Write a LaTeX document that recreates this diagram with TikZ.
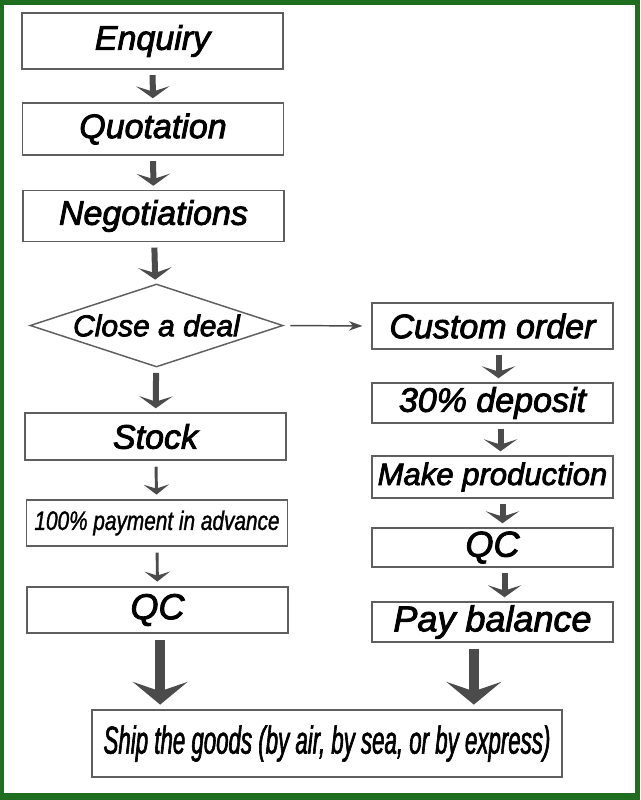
\documentclass[tikz,border=0pt]{standalone}
\usepackage{fontspec}
\setmainfont{Liberation Sans}
\newfontfamily\boxfont[FakeBold=2.5]{Liberation Sans Italic}
\newfontfamily\narrowfont[FakeStretch=0.78, FakeBold=1.2]{Liberation Sans Italic}
\newfontfamily\shipfont[FakeStretch=0.57, FakeBold=1.5]{Liberation Sans Italic}
\usetikzlibrary{shapes.geometric, arrows.meta}

\definecolor{framegreen}{RGB}{31,110,31}
\definecolor{edgegray}{RGB}{95,95,95}
\definecolor{arrowgray}{RGB}{75,75,75}

\tikzset{
	flowbox/.style={draw=edgegray, line width=1.1pt, rectangle, inner sep=0pt,
		text=black, font=\boxfont\fontsize{25.5pt}{30pt}\selectfont},
	leftbox/.style={flowbox, minimum width=196pt},
	rightbox/.style={flowbox, minimum width=181pt},
	midarrow/.style={draw=arrowgray, line width=4.5pt,
		-{Stealth[length=9pt, width=25pt, inset=4pt]},
		shorten <=4pt, shorten >=3pt},
	thinarrow/.style={draw=arrowgray, line width=2.2pt,
		-{Stealth[length=7.5pt, width=19pt, inset=3pt]},
		shorten <=4.5pt, shorten >=3.5pt},
	bigarrow/.style={draw=arrowgray, line width=7.5pt,
		-{Stealth[length=17pt, width=41pt, inset=7pt]},
		shorten <=5pt, shorten >=3.5pt},
	sidearrow/.style={draw=arrowgray, line width=1.1pt,
		-{Stealth[length=10pt, width=7pt, inset=3pt]},
		shorten <=5pt, shorten >=6.5pt}
}

\begin{document}
\begin{tikzpicture}[x=0.75pt, y=-0.75pt]
	% frame
	\fill[framegreen] (0,0) rectangle (640,800);
	\fill[white] (4,5) rectangle (635,793);
	\useasboundingbox (0,0) rectangle (640,800);

	% left column
	\node[leftbox, minimum height=42pt] (enquiry) at (152.5,41) {Enquiry};
	\node[leftbox, minimum height=39pt] (quotation) at (153,129) {Quotation};
	\node[leftbox, minimum height=38.25pt] (negotiations) at (153.5,216)
		{Negotiations};
	\node[draw=edgegray, line width=1.1pt, diamond, aspect=3.05, inner sep=0pt,
		minimum width=189.75pt, minimum height=62.25pt,
		font=\boxfont\fontsize{22.5pt}{26pt}\selectfont] (deal) at (156.5,325.5)
		{Close a deal};
	\node[leftbox, minimum height=35.25pt] (stock) at (155.5,436.5) {Stock};
	\node[leftbox, minimum height=34.5pt,
		font=\narrowfont\fontsize{20pt}{24pt}\selectfont] (payment) at (157,523)
		{100\% payment in advance};
	\node[leftbox, minimum height=34.5pt,
		font=\boxfont\fontsize{27pt}{30pt}\selectfont] (qcleft) at (157.5,610) {QC};

	% right column
	\node[rightbox, minimum height=34.5pt] (custom) at (492.5,326) {Custom order};
	\node[rightbox, minimum height=30pt] (deposit) at (492.5,403) {30\% deposit};
	\node[rightbox, minimum height=31.5pt,
		font=\boxfont\fontsize{23.3pt}{26pt}\selectfont] (production) at (492.5,477)
		{Make production};
	\node[rightbox, minimum height=29.25pt,
		font=\boxfont\fontsize{27pt}{30pt}\selectfont] (qcright) at (492.5,547.5) {QC};
	\node[rightbox, minimum height=30pt,
		font=\boxfont\fontsize{27pt}{30pt}\selectfont] (balance) at (492.5,622)
		{Pay balance};

	% shipping
	\node[flowbox, minimum width=352.5pt, minimum height=50.25pt,
		font=\shipfont\fontsize{29.3pt}{32pt}\selectfont] (ship) at (327,743.5)
		{Ship the goods (by air, by sea, or by express)};

	% connectors
	\draw[midarrow] (enquiry) -- (quotation);
	\draw[midarrow] (quotation) -- (negotiations);
	\draw[midarrow] (negotiations) -- (deal);
	\draw[midarrow] (deal) -- (stock);
	\draw[thinarrow] (stock) -- (payment);
	\draw[thinarrow] (payment) -- (qcleft);
	\draw[sidearrow] (deal.east) -- (custom.west);
	\draw[midarrow] ([xshift=4.5pt]custom.south) -- ([xshift=4.5pt]deposit.north);
	\draw[midarrow] ([xshift=6pt]deposit.south) -- ([xshift=6pt]production.north);
	\draw[midarrow] ([xshift=7.5pt]production.south) -- ([xshift=7.5pt]qcright.north);
	\draw[midarrow] ([xshift=9pt]qcright.south) -- ([xshift=9pt]balance.north);
	\draw[bigarrow] ([xshift=2pt]qcleft.south) -- ([xshift=2pt]qcleft.south |- ship.north);
	\draw[bigarrow] ([xshift=-14pt]balance.south) -- ([xshift=-14pt]balance.south |- ship.north);
\end{tikzpicture}
\end{document}
